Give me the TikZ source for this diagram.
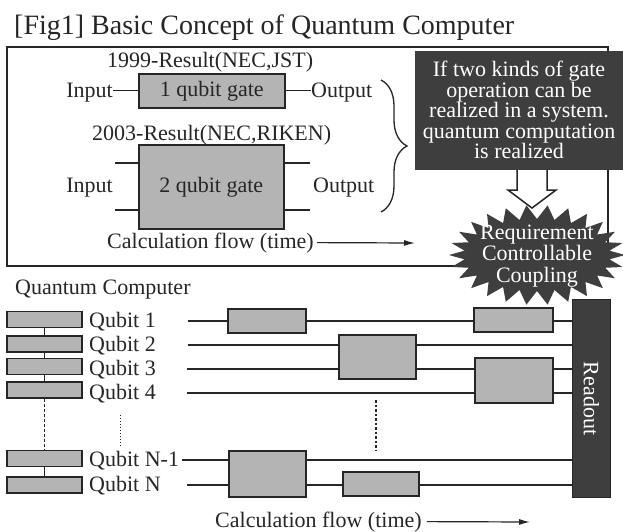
\documentclass[tikz,border=0pt]{standalone}
\usepackage{fontspec}
\setmainfont{Liberation Serif}
\usetikzlibrary{decorations.pathreplacing,arrows.meta,calc}
\definecolor{ink}{HTML}{262626}
\definecolor{gatefill}{HTML}{B4B4B4}
\definecolor{darkfill}{HTML}{3E3E3E}
\begin{document}
\begin{tikzpicture}[x=1pt,y=-1pt,
  lbl/.style={font=\fontsize{22}{24}\selectfont, text=ink, inner sep=0pt},
  gatebox/.style={draw=ink, fill=gatefill, line width=1.6pt, inner sep=0pt, anchor=north west, font=\fontsize{22}{24}\selectfont, text=ink},
  qbox/.style={draw=ink, fill=gatefill, line width=1.5pt, inner sep=0pt, minimum width=75pt, minimum height=16pt},
  wire/.style={draw=ink, line width=1.3pt},
  flowarrow/.style={draw=ink, line width=1.2pt, -{Latex[length=11pt,width=6pt]}},
  darkbox/.style={fill=darkfill, draw=none, inner sep=0pt, anchor=north west},
  whitetext/.style={font=\fontsize{22}{20.5}\selectfont, text=white, inner sep=0pt, align=center}
]
\useasboundingbox (0,0) rectangle (623,531);
\fill[white] (0,0) rectangle (623,531);

% title
\node[lbl, font=\fontsize{28}{30}\selectfont, anchor=base west] (title) at (14,34) {[Fig1] Basic Concept of Quantum Computer};

% top frame
\draw[ink, line width=1.6pt] (7,47) rectangle (608,266);

% 1 qubit gate
\node[lbl, anchor=base west] (r1999) at (107,67) {1999-Result(NEC,JST)};
\node[gatebox, minimum width=146pt, minimum height=34pt] (g1) at (138,73) {1 qubit gate};
\node[lbl, anchor=base east] (in1) at (113,97) {Input};
\node[lbl, anchor=base west] (out1) at (311,97) {Output};
\draw[wire] (g1.west -| in1.east) -- (g1.west);
\draw[wire] (g1.east) -- (g1.east -| out1.west);

% 2 qubit gate
\node[lbl, anchor=base west] (r2003) at (92,140) {2003-Result(NEC,RIKEN)};
\node[gatebox, minimum width=145pt, minimum height=84pt] (g2) at (138,144) {2 qubit gate};
\node[lbl, anchor=base east] (in2) at (113,192) {Input};
\node[lbl, anchor=base west] (out2) at (313,192) {Output};
\coordinate (a1) at (115,163);
\coordinate (a2) at (115,210);
\coordinate (b1) at (310,163);
\coordinate (b2) at (310,210);
\draw[wire] (a1) -- (a1 -| g2.west);
\draw[wire] (a2) -- (a2 -| g2.west);
\draw[wire] (b1 -| g2.east) -- (b1);
\draw[wire] (b2 -| g2.east) -- (b2);

% brace
\draw[ink, line width=1.3pt, decorate, decoration={brace, amplitude=26pt}] (381,80) -- (381,212);

% calculation flow (top)
\node[lbl, anchor=base west] (cf1) at (107,248) {Calculation flow (time)};
\coordinate (cf1end) at (415,243);
\draw[flowarrow] ([xshift=3pt]cf1.east) -- (cf1end);

% dark message box
\node[darkbox, minimum width=208pt, minimum height=119pt] (msg) at (415,51) {};
\node[whitetext] (msgtext) at (519,110) {If two kinds of gate\\operation can be\\realized in a system.\\quantum computation\\is realized};

% hollow arrow
\draw[ink, line width=1.5pt, fill=white, line join=miter] (517,170) -- (517,190) -- (508,190) -- (532,208) -- (556,190) -- (547,190) -- (547,170);

% starburst
\fill[darkfill] (625,255) \foreach \k in {0,...,25} { -- ({537+88*cos(\k*360/26)},{255+50*sin(\k*360/26)}) -- ({537+73*cos((\k+0.5)*360/26)},{255+36*sin((\k+0.5)*360/26)}) } -- cycle;
\node[whitetext, font=\fontsize{22}{21.5}\selectfont] (req) at (537,256) {Requirement\\Controllable\\Coupling};

% bottom part
\node[lbl, anchor=base west] (qc) at (15,294) {Quantum Computer};

\node[qbox] (q1) at (44.5,319.5) {};
\node[qbox] (q2) at (44.5,344) {};
\node[qbox] (q3) at (44.5,366.5) {};
\node[qbox] (q4) at (44.5,390) {};
\node[qbox] (qn1) at (44.5,458.5) {};
\node[qbox] (qn) at (44.5,485) {};

\draw[wire] (q1.south) -- (q2.north);
\draw[wire] (q2.south) -- (q3.north);
\draw[wire] (q3.south) -- (q4.north);
\draw[wire] (qn1.south) -- (qn.north);
\draw[ink, line width=1.5pt, dash pattern=on 3pt off 2pt] (q4.south) -- (qn1.north);

\node[lbl, anchor=base west] (l1) at (89,327) {Qubit 1};
\node[lbl, anchor=base west] (l2) at (89,351) {Qubit 2};
\node[lbl, anchor=base west] (l3) at (89,375) {Qubit 3};
\node[lbl, anchor=base west] (l4) at (89,399) {Qubit 4};
\node[lbl, anchor=base west] (ln1) at (89,466) {Qubit N-1};
\node[lbl, anchor=base west] (ln) at (89,491) {Qubit N};

\coordinate (d1a) at (120,415);
\coordinate (d1b) at (120,447);
\draw[ink, line width=1pt, dotted] (d1a) -- (d1b);

% readout
\node[darkbox, draw=ink, line width=1pt, minimum width=38pt, minimum height=198pt] (ro) at (572,299) {};
\node[whitetext, rotate=-90] (rotext) at (ro.center) {Readout};

% wires
\coordinate (w1) at (188,321);
\coordinate (w2) at (188,345);
\coordinate (w3) at (187,369);
\coordinate (w4) at (187,393);
\coordinate (w5) at (182,460);
\coordinate (w6) at (187,485);
\foreach \w in {w1,w2,w3,w4,w5,w6} { \draw[wire] (\w) -- (\w -| ro.west); }

% gates
\node[gatebox, minimum width=78pt, minimum height=24pt] (ga) at (227,308) {};
\node[gatebox, minimum width=79pt, minimum height=24pt] (gb) at (473,307) {};
\node[gatebox, minimum width=77pt, minimum height=44pt] (gc) at (338,334) {};
\node[gatebox, minimum width=78pt, minimum height=45pt] (gd) at (474,357) {};
\node[gatebox, minimum width=77pt, minimum height=46pt] (ge) at (228,450) {};
\node[gatebox, minimum width=76pt, minimum height=24pt] (gf) at (342,471) {};

\coordinate (d2a) at (376,400);
\coordinate (d2b) at (376,450);
\draw[ink, line width=1.4pt, dash pattern=on 2.5pt off 2pt] (d2a) -- (d2b);

% calculation flow (bottom)
\node[lbl, anchor=base west] (cf2) at (215,527) {Calculation flow (time)};
\coordinate (cf2end) at (530,522);
\draw[flowarrow] ([xshift=5pt]cf2.east) -- (cf2end);
\end{tikzpicture}
\end{document}
